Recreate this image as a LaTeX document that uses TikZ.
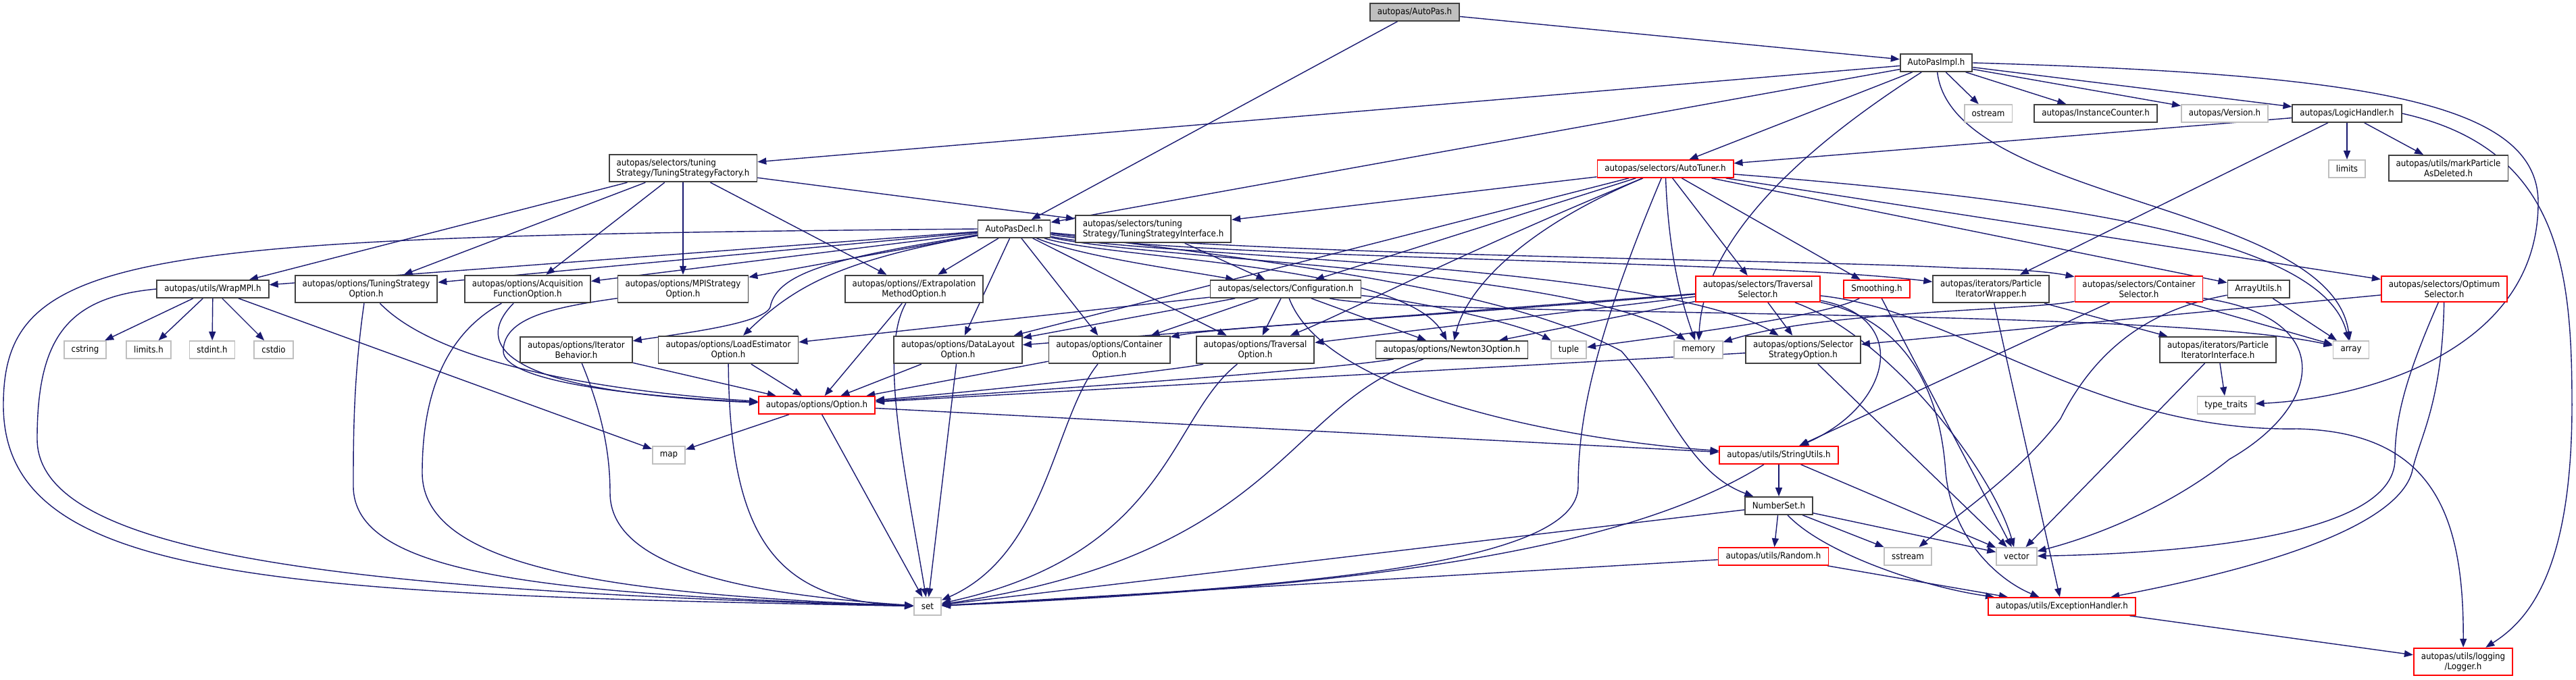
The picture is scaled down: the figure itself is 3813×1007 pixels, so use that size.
\documentclass[tikz,border=0pt]{standalone}
\usepackage{fontspec}
\newfontfamily\hdrfamily{DejaVu Sans Condensed}
\usepackage{tikz}
\usetikzlibrary{arrows.meta,backgrounds}
\definecolor{edgeblue}{RGB}{25,25,112}
\definecolor{boxdark}{RGB}{64,64,64}
\definecolor{sysgray}{RGB}{191,191,191}
\definecolor{truncred}{RGB}{255,0,0}
\newcommand{\hdrfont}{\hdrfamily\fontsize{7.5}{8.5}\selectfont}

\begin{document}
\begin{tikzpicture}[x=0.02cm, y=-0.02cm,
    hdr/.style={rectangle, draw=boxdark, line width=1pt, fill=white,
        font=\hdrfont, align=center, inner xsep=0.22cm, inner ysep=0.13cm,
        minimum height=0.52cm},
    syshdr/.style={hdr, draw=sysgray},
    redhdr/.style={hdr, draw=truncred},
    roothdr/.style={hdr, fill=sysgray},
    incl/.style={-{Triangle[length=0.26cm,width=0.2cm]}, edgeblue, line width=0.8pt}
]
    \useasboundingbox (0,0) rectangle (3813,1007);

    % top rows
    \node[roothdr] (root) at (2094,18) {autopas/AutoPas.h};
    \node[hdr] (impl) at (2866,93) {AutoPasImpl.h};
    \node[syshdr] (ostream) at (2943,168) {ostream};
    \node[hdr] (icount) at (3102,168) {autopas/InstanceCounter.h};
    \node[syshdr] (version) at (3293,168) {autopas/Version.h};
    \node[hdr] (logic) at (3474,168) {autopas/LogicHandler.h};
    \node[syshdr] (limits) at (3474,250) {limits};
    \node[hdr] (mark) at (3624,249) {autopas/utils/markParticle\\AsDeleted.h};
    \node[hdr, align=left] (tsf) at (1011,249) {autopas/selectors/tuning\\Strategy/TuningStrategyFactory.h};
    \node[redhdr] (tuner) at (2465,250) {autopas/selectors/AutoTuner.h};
    \node[hdr] (decl) at (1501,339) {AutoPasDecl.h};
    \node[hdr, align=left] (tsi) at (1707,339) {autopas/selectors/tuning\\Strategy/TuningStrategyInterface.h};

    % middle row
    \node[hdr] (wrapmpi) at (315,428) {autopas/utils/WrapMPI.h};
    \node[hdr] (tsopt) at (542,428) {autopas/options/TuningStrategy\\Option.h};
    \node[hdr] (acqopt) at (781,428) {autopas/options/Acquisition\\FunctionOption.h};
    \node[hdr] (mpiopt) at (1011,428) {autopas/options/MPIStrategy\\Option.h};
    \node[hdr] (extraopt) at (1353,428) {autopas/options//Extrapolation\\MethodOption.h};
    \node[hdr] (config) at (1903,428) {autopas/selectors/Configuration.h};
    \node[redhdr] (travsel) at (2602,428) {autopas/selectors/Traversal\\Selector.h};
    \node[redhdr] (smooth) at (2778,428) {Smoothing.h};
    \node[hdr] (piwrap) at (2947,428) {autopas/iterators/Particle\\IteratorWrapper.h};
    \node[redhdr] (contsel) at (3166,428) {autopas/selectors/Container\\Selector.h};
    \node[hdr] (arrutils) at (3343,428) {ArrayUtils.h};
    \node[redhdr] (optsel) at (3618,428) {autopas/selectors/Optimum\\Selector.h};

    % option row
    \node[syshdr] (cstring) at (126,518) {cstring};
    \node[syshdr] (limitsh) at (220,518) {limits.h};
    \node[syshdr] (stdint) at (314,518) {stdint.h};
    \node[syshdr] (cstdio) at (405,518) {cstdio};
    \node[hdr] (iterbeh) at (853,518) {autopas/options/Iterator\\Behavior.h};
    \node[hdr] (loadopt) at (1078,518) {autopas/options/LoadEstimator\\Option.h};
    \node[hdr] (dlopt) at (1418,518) {autopas/options/DataLayout\\Option.h};
    \node[hdr] (contopt) at (1642,518) {autopas/options/Container\\Option.h};
    \node[hdr] (travopt) at (1858,518) {autopas/options/Traversal\\Option.h};
    \node[hdr] (n3opt) at (2149,518) {autopas/options/Newton3Option.h};
    \node[syshdr] (tuple) at (2322,518) {tuple};
    \node[syshdr] (memory) at (2514,518) {memory};
    \node[hdr] (selstrat) at (2669,518) {autopas/options/Selector\\StrategyOption.h};
    \node[hdr] (piiface) at (3283,518) {autopas/iterators/Particle\\IteratorInterface.h};
    \node[syshdr] (array) at (3480,518) {array};

    % lower rows
    \node[syshdr] (typetraits) at (3295,600) {type\_traits};
    \node[redhdr] (option) at (1209,600) {autopas/options/Option.h};
    \node[syshdr] (map) at (990,674) {map};
    \node[redhdr] (strutils) at (2633,674) {autopas/utils/StringUtils.h};
    \node[hdr] (numset) at (2633,749) {NumberSet.h};
    \node[redhdr] (random) at (2625,824) {autopas/utils/Random.h};
    \node[syshdr] (sstream) at (2824,824) {sstream};
    \node[syshdr] (vector) at (2985,824) {vector};
    \node[syshdr] (set) at (1373,898) {set};
    \node[redhdr] (exchandler) at (3052,898) {autopas/utils/ExceptionHandler.h};
    \node[redhdr] (logger) at (3646,980) {autopas/utils/logging\\/Logger.h};

    \begin{scope}[on background layer]
    % AutoPas.h
    \draw[incl] (root) -- (impl);
    \draw[incl] (root) -- (decl);

    % AutoPasImpl.h
    \draw[incl] (impl) -- (tsf);
    \draw[incl] (impl) -- (decl);
    \draw[incl] (impl) -- (tuner);
    \draw[incl] (impl) .. controls (2620,250) and (2520,380) .. (memory);
    \draw[incl] (impl) -- (ostream);
    \draw[incl] (impl) -- (icount);
    \draw[incl] (impl) -- (version);
    \draw[incl] (impl) -- (logic);
    \draw[incl] (impl) .. controls (2890,300) and (3450,300) .. (array);
    \draw[incl] (impl.east) .. controls (3500,110) and (3757,150) .. (3757,300)
        .. controls (3757,520) and (3500,590) .. (typetraits);

    % LogicHandler.h
    \draw[incl] (logic) -- (limits);
    \draw[incl] (logic) -- (mark);
    \draw[incl] (logic) -- (tuner);
    \draw[incl] (logic) -- (piwrap);
    \draw[incl] (logic.east) .. controls (3790,220) and (3807,400) .. (3807,600)
        .. controls (3807,850) and (3740,920) .. (logger);

    % TuningStrategyFactory.h
    \draw[incl] (tsf) -- (tsi);
    \draw[incl] (tsf) -- (wrapmpi);
    \draw[incl] (tsf) -- (tsopt);
    \draw[incl] (tsf) -- (acqopt);
    \draw[incl] (tsf) -- (mpiopt);
    \draw[incl] (tsf) -- (extraopt);

    % AutoTuner.h
    \draw[incl] (tuner) -- (tsi);
    \draw[incl] (tuner) -- (dlopt);
    \draw[incl] (tuner) -- (config);
    \draw[incl] (tuner) .. controls (2150,380) and (2000,460) .. (travopt);
    \draw[incl] (tuner) .. controls (2250,340) and (2170,430) .. (n3opt);
    \draw[incl] (tuner) .. controls (2470,380) and (2490,450) .. (memory);
    \draw[incl] (tuner) -- (travsel);
    \draw[incl] (tuner) -- (smooth);
    \draw[incl] (tuner) -- (arrutils);
    \draw[incl] (tuner) .. controls (3100,300) and (3440,360) .. (array);
    \draw[incl] (tuner) -- (optsel);
    \draw[incl] (tuner) .. controls (2360,500) and (2336,620) .. (2336,720)
        .. controls (2336,840) and (1900,870) .. (set);

    % AutoPasDecl.h
    \draw[incl] (decl) -- (wrapmpi);
    \draw[incl] (decl) -- (tsopt);
    \draw[incl] (decl) -- (acqopt);
    \draw[incl] (decl) -- (mpiopt);
    \draw[incl] (decl) .. controls (1250,380) and (1150,400) .. (1140,455)
        .. controls (1130,480) and (1000,495) .. (iterbeh);
    \draw[incl] (decl) .. controls (1250,385) and (1180,420) .. (loadopt);
    \draw[incl] (decl) -- (extraopt);
    \draw[incl] (decl) -- (dlopt);
    \draw[incl] (decl) -- (contopt);
    \draw[incl] (decl) -- (travopt);
    \draw[incl] (decl) .. controls (1600,380) and (1750,400) .. (config);
    \draw[incl] (decl) .. controls (1650,385) and (2080,390) .. (n3opt);
    \draw[incl] (decl) .. controls (1700,385) and (2350,400) .. (memory);
    \draw[incl] (decl) .. controls (1700,380) and (2450,390) .. (selstrat);
    \draw[incl] (decl) .. controls (1800,385) and (2600,385) .. (piwrap);
    \draw[incl] (decl) .. controls (1900,380) and (2700,385) .. (2900,397)
        .. controls (2980,398) and (3030,402) .. (contsel);
    \draw[incl] (decl) .. controls (2000,400) and (2250,440) .. (2400,520)
        .. controls (2470,600) and (2500,700) .. (numset);
    \draw[incl] (decl.west) .. controls (200,350) and (5,370) .. (5,600)
        .. controls (5,860) and (400,880) .. (set);

    % Configuration.h and TuningStrategyInterface.h
    \draw[incl] (tsi) -- (config);
    \draw[incl] (config) -- (loadopt);
    \draw[incl] (config) -- (dlopt);
    \draw[incl] (config) -- (contopt);
    \draw[incl] (config) -- (travopt);
    \draw[incl] (config) -- (n3opt);
    \draw[incl] (config) .. controls (2100,445) and (2250,480) .. (tuple);
    \draw[incl] (config) .. controls (2100,470) and (3200,455) .. (array);
    \draw[incl] (config) .. controls (1960,580) and (2300,650) .. (strutils);

    % TraversalSelector.h
    \draw[incl] (travsel) -- (dlopt);
    \draw[incl] (travsel) .. controls (2100,470) and (1800,485) .. (contopt);
    \draw[incl] (travsel) -- (travopt);
    \draw[incl] (travsel) -- (n3opt);
    \draw[incl] (travsel) -- (selstrat);
    \draw[incl] (travsel) .. controls (2830,470) and (2800,600) .. (strutils);
    \draw[incl] (travsel) .. controls (2800,470) and (2870,550) .. (2880,700)
        .. controls (2890,800) and (2960,860) .. (exchandler);
    \draw[incl] (travsel) .. controls (2800,500) and (2950,700) .. (vector);
    \draw[incl] (travsel) .. controls (2900,460) and (3100,640) .. (3400,635)
        .. controls (3600,640) and (3647,760) .. (logger);

    % Smoothing.h, ContainerSelector.h
    \draw[incl] (smooth) .. controls (2700,470) and (2450,500) .. (tuple);
    \draw[incl] (smooth) -- (vector);
    \draw[incl] (contsel) .. controls (3000,460) and (2700,460) .. (memory);
    \draw[incl] (contsel) -- (array);
    \draw[incl] (contsel) -- (strutils);
    \draw[incl] (contsel) .. controls (3460,470) and (3440,600) .. (3300,680)
        .. controls (3200,760) and (3080,800) .. (vector);

    % iterators, ArrayUtils.h, OptimumSelector.h
    \draw[incl] (piwrap) -- (piiface);
    \draw[incl] (piwrap) -- (exchandler);
    \draw[incl] (piiface) -- (typetraits);
    \draw[incl] (piiface) -- (vector);
    \draw[incl] (arrutils) -- (array);
    \draw[incl] (arrutils) .. controls (3230,450) and (3120,480) .. (3050,620)
        .. controls (2990,700) and (2900,760) .. (sstream);
    \draw[incl] (optsel) -- (selstrat);
    \draw[incl] (optsel) .. controls (3560,560) and (3545,620) .. (3545,680)
        .. controls (3545,800) and (3200,820) .. (vector);
    \draw[incl] (optsel) .. controls (3615,600) and (3580,650) .. (3570,700)
        .. controls (3540,800) and (3250,860) .. (exchandler);

    % options
    \draw[incl] (selstrat) -- (option);
    \draw[incl] (selstrat) -- (vector);
    \draw[incl] (tsopt) .. controls (650,540) and (900,580) .. (option);
    \draw[incl] (acqopt) .. controls (700,510) and (740,580) .. (option);
    \draw[incl] (mpiopt) .. controls (820,455) and (745,470) .. (745,520)
        .. controls (745,560) and (900,585) .. (option);
    \draw[incl] (iterbeh) -- (option);
    \draw[incl] (loadopt) -- (option);
    \draw[incl] (extraopt) -- (option);
    \draw[incl] (dlopt) -- (option);
    \draw[incl] (contopt) -- (option);
    \draw[incl] (travopt) .. controls (1760,545) and (1500,575) .. (option);
    \draw[incl] (n3opt) .. controls (1950,550) and (1500,580) .. (option);
    \draw[incl] (option) -- (map);
    \draw[incl] (option) -- (set);
    \draw[incl] (option) -- (strutils);

    % WrapMPI.h
    \draw[incl] (wrapmpi) -- (cstring);
    \draw[incl] (wrapmpi) -- (limitsh);
    \draw[incl] (wrapmpi) -- (stdint);
    \draw[incl] (wrapmpi) -- (cstdio);
    \draw[incl] (wrapmpi) -- (map);
    \draw[incl] (wrapmpi.west) .. controls (100,440) and (55,500) .. (55,650)
        .. controls (55,820) and (500,875) .. (set);

    % into set
    \draw[incl] (tsopt) .. controls (523,560) and (523,650) .. (523,720)
        .. controls (523,850) and (800,880) .. (set);
    \draw[incl] (acqopt) .. controls (650,500) and (625,600) .. (625,700)
        .. controls (625,840) and (900,880) .. (set);
    \draw[incl] (iterbeh) .. controls (895,620) and (903,680) .. (903,730)
        .. controls (903,840) and (1100,880) .. (set);
    \draw[incl] (loadopt) .. controls (1080,800) and (1150,890) .. (set);
    \draw[incl] (extraopt) .. controls (1300,520) and (1340,700) .. (set);
    \draw[incl] (dlopt) -- (set);
    \draw[incl] (contopt) .. controls (1560,620) and (1550,820) .. (set);
    \draw[incl] (travopt) .. controls (1730,620) and (1730,820) .. (set);
    \draw[incl] (n3opt) .. controls (1900,600) and (1898,820) .. (set);

    % utils
    \draw[incl] (strutils) -- (numset);
    \draw[incl] (strutils) -- (vector);
    \draw[incl] (strutils) .. controls (2400,820) and (2000,870) .. (set);
    \draw[incl] (numset) -- (random);
    \draw[incl] (numset) -- (sstream);
    \draw[incl] (numset) -- (vector);
    \draw[incl] (numset) -- (set);
    \draw[incl] (numset) .. controls (2700,820) and (2850,870) .. (exchandler);
    \draw[incl] (random) -- (set);
    \draw[incl] (random) -- (exchandler);
    \draw[incl] (exchandler) -- (logger);
    \end{scope}
\end{tikzpicture}
\end{document}
